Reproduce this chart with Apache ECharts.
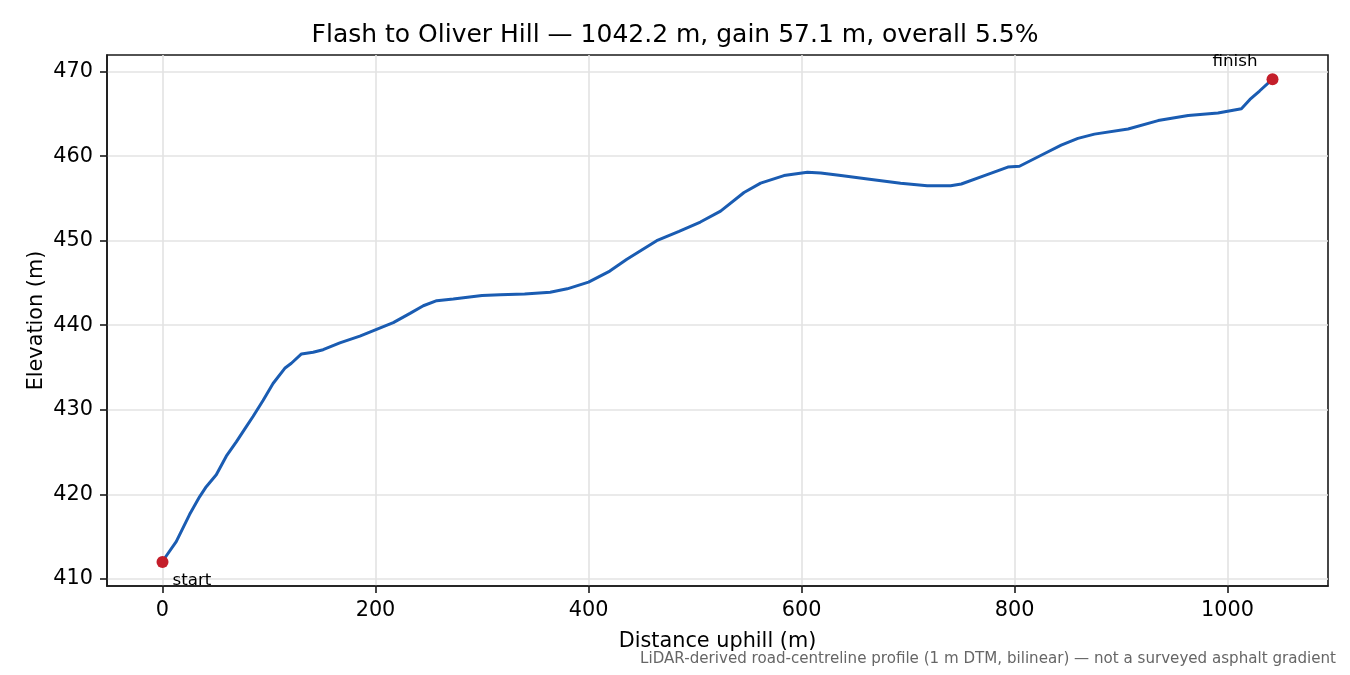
<!DOCTYPE html>
<html>
<head>
<meta charset="utf-8">
<script src="https://cdn.jsdelivr.net/npm/echarts@6/dist/echarts.min.js"></script>
<style>
  html, body { margin: 0; padding: 0; background: #fff; }
  #chart { width: 1350px; height: 675px; }
</style>
</head>
<body>
<div id="chart"></div>
<script>
// 距离(m) 与 高程(m)
const distance = [0, 3.5, 12.9, 25.4, 34.8, 41.1, 50.5, 59.9, 69.3, 78.7, 85, 94.4, 103.8, 114.8, 121, 130.5,
  141.4, 150.8, 166.5, 185.3, 201, 216.7, 232.4, 244.9, 257.5, 273, 300, 317, 340, 364, 380, 400, 420, 436,
  450, 464, 485, 505, 524, 546, 561.6, 583.5, 605.5, 618, 637, 662, 693, 718, 740, 750, 771.7, 793.7, 804.6,
  825, 843.8, 859.5, 875, 906.6, 934.8, 963, 991, 1013, 1021, 1030, 1042.2]
const elevation = [412.0, 412.7, 414.4, 417.6, 419.7, 420.9, 422.3, 424.5, 426.2, 428.0, 429.2, 431.1, 433.1, 434.9, 435.5, 436.6,
  436.8, 437.1, 437.9, 438.7, 439.5, 440.3, 441.4, 442.3, 442.9, 443.1, 443.5, 443.6, 443.7, 443.9, 444.3, 445.1, 446.4, 447.8,
  448.9, 450.0, 451.1, 452.2, 453.5, 455.7, 456.8, 457.7, 458.1, 458.0, 457.7, 457.3, 456.8, 456.5, 456.5, 456.7, 457.7, 458.7, 458.8,
  460.1, 461.3, 462.1, 462.6, 463.2, 464.2, 464.8, 465.1, 465.6, 466.7, 467.7, 469.1]
const xTicks = [0, 200, 400, 600, 800, 1000]
const yTicks = [410, 420, 430, 440, 450, 460, 470]
const endLabels = ['start', 'finish']

const font = 'DejaVu Sans'
const ink = '#1a1a1a'
let profile = distance.map((d, i) => [d, elevation[i]])
let last = distance.length - 1

let myChart = echarts.init(document.getElementById('chart'), null, { renderer: 'canvas' })
let options = {
  animation: false,
  title: {
    text: 'Flash to Oliver Hill — 1042.2 m, gain 57.1 m, overall 5.5%',
    left: 'center',
    top: 18,
    textStyle: { fontFamily: font, fontSize: 25, fontWeight: 'normal', color: '#000' },
  },
  grid: {
    left: 107, right: 22, top: 55, bottom: 89,
    show: true, borderColor: ink, borderWidth: 1.6, backgroundColor: 'transparent',
  },
  xAxis: {
    type: 'value',
    min: -52.1, max: 1094.3,
    name: 'Distance uphill (m)',
    nameLocation: 'middle',
    nameGap: 45,
    nameTextStyle: { fontFamily: font, fontSize: 20.8, color: '#000' },
    axisLine: { show: true, onZero: false, lineStyle: { color: ink, width: 1.6 } },
    axisTick: { show: true, length: 7, inside: false, customValues: xTicks, lineStyle: { color: ink, width: 1.6 } },
    axisLabel: { customValues: xTicks, margin: 14, fontFamily: font, fontSize: 20.8, color: '#000',
      formatter: v => String(v) },
    splitLine: { show: true, lineStyle: { color: '#e3e3e3', width: 1.6 } },
  },
  yAxis: {
    type: 'value',
    min: 409.15, max: 471.96,
    name: 'Elevation (m)',
    nameLocation: 'middle',
    nameGap: 60,
    nameMoveOverlap: false,
    nameTextStyle: { fontFamily: font, fontSize: 20.8, color: '#000' },
    axisLine: { show: true, onZero: false, lineStyle: { color: ink, width: 1.6 } },
    axisTick: { show: true, length: 7, inside: false, customValues: yTicks, lineStyle: { color: ink, width: 1.6 } },
    axisLabel: { customValues: yTicks, margin: 14, fontFamily: font, fontSize: 20.8, color: '#000',
      formatter: v => String(v) },
    splitLine: { show: true, lineStyle: { color: '#e3e3e3', width: 1.6 } },
  },
  graphic: [{
    type: 'text',
    right: 14,
    top: 652,
    style: {
      text: 'LiDAR-derived road-centreline profile (1 m DTM, bilinear) — not a surveyed asphalt gradient',
      fill: '#666', fontFamily: font, fontSize: 15.1,
    },
  }],
  series: [
    {
      name: 'profile',
      type: 'line',
      data: profile,
      showSymbol: false,
      lineStyle: { color: '#1a5cb2', width: 3 },
      z: 2,
    },
    {
      name: 'ends',
      type: 'scatter',
      symbolSize: 12,
      itemStyle: { color: '#c41e2a', opacity: 1 },
      z: 3,
      data: [
        {
          value: profile[0],
          label: { show: true, formatter: endLabels[0], position: 'right', offset: [-1, 19],
            fontFamily: font, fontSize: 16.7, color: '#000', opacity: 1 },
        },
        {
          value: profile[last],
          label: { show: true, formatter: endLabels[1], position: 'left', offset: [-4, -18],
            fontFamily: font, fontSize: 16.7, color: '#000', opacity: 1 },
        },
      ],
    },
  ],
}

myChart.setOption(options)
</script>
</body>
</html>
